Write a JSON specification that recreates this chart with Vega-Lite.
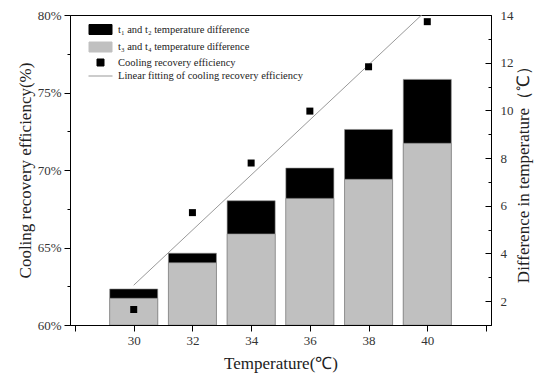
{
  "$schema": "https://vega.github.io/schema/vega-lite/v6.json",
  "width": 421,
  "height": 310,
  "autosize": {"type": "none"},
  "padding": {"left": 70, "top": 15, "right": 46, "bottom": 51},
  "background": "white",
  "config": {
    "font": "Liberation Serif",
    "view": {"stroke": "#000000", "strokeWidth": 1},
    "axis": {
      "grid": false,
      "domainColor": "#000000",
      "tickColor": "#000000",
      "labelColor": "#333333",
      "labelFont": "Liberation Serif",
      "labelFontSize": 13,
      "titleFont": "Liberation Serif",
      "titleFontSize": 17,
      "titleFontWeight": "normal",
      "titleColor": "#222222"
    }
  },
  "data": {
    "values": [
      {"temp": 30, "t12": 2.51, "t34": 2.12, "eff": 61.0},
      {"temp": 32, "t12": 4.01, "t34": 3.61, "eff": 67.25},
      {"temp": 34, "t12": 6.21, "t34": 4.82, "eff": 70.45},
      {"temp": 36, "t12": 7.58, "t34": 6.31, "eff": 73.8},
      {"temp": 38, "t12": 9.2, "t34": 7.11, "eff": 76.66},
      {"temp": 40, "t12": 11.3, "t34": 8.62, "eff": 79.57}
    ]
  },
  "layer": [
    {
      "transform": [{"fold": ["t12", "t34"], "as": ["series", "diff"]}],
      "mark": {"type": "bar", "width": 48, "clip": true, "stroke": "#8a8a8a", "strokeWidth": 0.6},
      "encoding": {
        "x": {
          "field": "temp", "type": "quantitative",
          "scale": {"domain": [28, 42], "nice": false, "zero": false},
          "axis": {
            "title": "Temperature(℃)",
            "values": [28, 29, 30, 31, 32, 33, 34, 35, 36, 37, 38, 39, 40, 41, 42],
            "labelExpr": "datum.value % 2 == 0 && datum.value >= 30 && datum.value <= 40 ? datum.label : ''",
            "tickSize": {"condition": {"test": "datum.value % 2 == 0", "value": 6}, "value": 2},
            "labelPadding": 3,
            "titlePadding": 8
          }
        },
        "y": {
          "field": "diff", "type": "quantitative", "stack": null,
          "scale": {"domain": [1, 14], "nice": false, "zero": false},
          "axis": {
            "orient": "right",
            "title": "Difference in temperature（℃）",
            "titleAngle": 270,
            "values": [2, 3, 4, 5, 6, 7, 8, 9, 10, 11, 12, 13, 14],
            "labelExpr": "datum.value % 2 == 0 ? datum.label : ''",
            "tickSize": {"condition": {"test": "datum.value % 2 == 0", "value": -6}, "value": -3},
            "labelPadding": 15,
            "titlePadding": 19
          }
        },
        "color": {
          "field": "series", "type": "nominal",
          "scale": {
            "domain": ["t12", "t34", "eff", "fit"],
            "range": ["#000000", "#c0c0c0", "#000000", "#999999"]
          },
          "legend": {
            "orient": "none",
            "legendX": 25,
            "legendY": 9,
            "direction": "vertical",
            "title": null,
            "padding": 0,
            "symbolSize": 100,
            "labelFont": "Liberation Serif",
            "labelFontSize": 10.5,
            "labelColor": "#222222",
            "labelLimit": 400,
            "labelOffset": 12,
            "rowPadding": 2.5,
            "labelExpr": "datum.value == 't12' ? 't₁ and t₂ temperature difference' : datum.value == 't34' ? 't₃ and t₄ temperature difference' : datum.value == 'eff' ? 'Cooling recovery efficiency' : 'Linear fitting of cooling recovery efficiency'",
            "encode": {
              "symbols": {
                "shape": {"value": {"expr": "datum.value == 't12' || datum.value == 't34' ? 'M-2.3,-1H2.3V1H-2.3Z' : datum.value == 'eff' ? 'M-0.7,-0.7H0.7V0.7H-0.7Z' : 'M-2.4,0H2.4'"}},
                "fill": {"value": {"expr": "datum.value == 'fit' ? 'transparent' : datum.value == 't34' ? '#c0c0c0' : '#000000'"}},
                "stroke": {"value": {"expr": "datum.value == 'fit' ? '#999999' : datum.value == 't34' ? '#b0b0b0' : '#000000'"}},
                "strokeWidth": {"value": 1},
                "opacity": {"value": 1}
              }
            },
            "encoding": {
              "symbols": {
                "shape": {"value": {"expr": "datum.value == 't12' || datum.value == 't34' ? 'M-2.3,-1H2.3V1H-2.3Z' : datum.value == 'eff' ? 'M-0.7,-0.7H0.7V0.7H-0.7Z' : 'M-2.4,0H2.4'"}},
                "fill": {"value": {"expr": "datum.value == 'fit' ? 'transparent' : datum.value == 't34' ? '#c0c0c0' : '#000000'"}},
                "stroke": {"value": {"expr": "datum.value == 'fit' ? '#999999' : datum.value == 't34' ? '#b0b0b0' : '#000000'"}},
                "strokeWidth": {"value": 1},
                "opacity": {"value": 1}
              }
            }
          }
        }
      }
    },
    {
      "encoding": {
        "x": {"field": "temp", "type": "quantitative"},
        "y": {
          "field": "eff", "type": "quantitative",
          "scale": {"domain": [60, 80], "nice": false, "zero": false},
          "axis": {
            "orient": "left",
            "title": "Cooling recovery efficiency(%)",
            "values": [60, 62.5, 65, 67.5, 70, 72.5, 75, 77.5, 80],
            "labelExpr": "datum.value % 5 == 0 ? datum.value + '%' : ''",
            "tickSize": {"condition": {"test": "datum.value % 5 == 0", "value": 6}, "value": 3},
            "labelPadding": 3,
            "titlePadding": 3
          }
        }
      },
      "layer": [
        {
          "transform": [{"regression": "eff", "on": "temp", "extent": [30, 40]}],
          "mark": {"type": "line", "clip": true, "strokeWidth": 1},
          "encoding": {"color": {"datum": "fit", "type": "nominal"}}
        },
        {
          "mark": {"type": "point", "shape": "square", "filled": true, "size": 49, "opacity": 1},
          "encoding": {"color": {"datum": "eff", "type": "nominal"}}
        }
      ]
    }
  ],
  "resolve": {"scale": {"y": "independent"}}
}
